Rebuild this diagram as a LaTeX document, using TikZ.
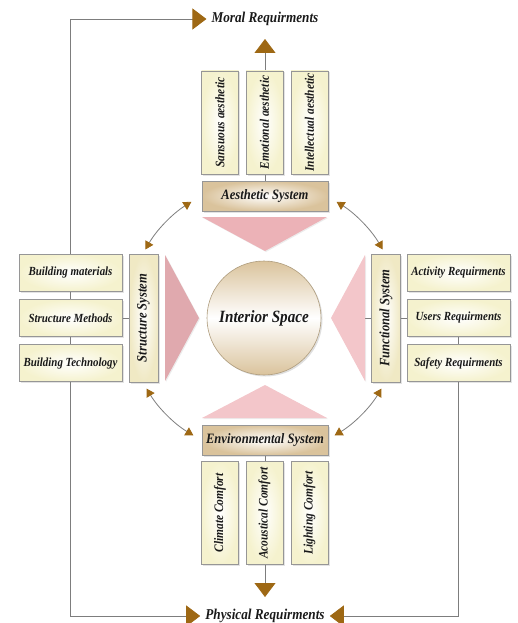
\documentclass[tikz,border=0pt]{standalone}
\usepackage{fontspec}
\setmainfont{Liberation Serif}[FakeStretch=0.88]
\usetikzlibrary{arrows.meta,positioning,shadows,backgrounds}
\definecolor{cream}{RGB}{245,242,206}
\definecolor{sand}{RGB}{218,195,156}
\definecolor{rosy}{RGB}{236,178,183}
\definecolor{rosylight}{RGB}{243,198,202}
\definecolor{bronze}{RGB}{158,104,20}
\definecolor{wire}{RGB}{125,125,125}
\definecolor{edge}{RGB}{150,150,150}
\definecolor{ink}{RGB}{25,25,25}

\begin{document}
\begin{tikzpicture}[x=1pt,y=-1pt,
  every node/.style={text=ink},
  box/.style={draw=edge,line width=0.7pt,inner color=white,outer color=cream,
    minimum width=103pt,minimum height=37pt,inner sep=1pt,
    font=\fontsize{12.4pt}{14pt}\selectfont\bfseries\itshape,
    drop shadow={shadow xshift=1.5pt,shadow yshift=-1.5pt,opacity=0.22}},
  col/.style={box,rotate=90,minimum width=103pt,minimum height=37pt,
    font=\fontsize{13pt}{15pt}\selectfont\bfseries\itshape},
  sys/.style={box,outer color=sand,minimum width=126pt,minimum height=30pt,
    font=\fontsize{14.3pt}{16pt}\selectfont\bfseries\itshape},
  vsys/.style={sys,rotate=90,outer color=cream!80!sand,minimum width=128pt,minimum height=29pt},
  lab/.style={font=\fontsize{15pt}{17pt}\selectfont\bfseries\itshape,inner sep=5pt},
  link/.style={draw=wire,line width=0.8pt},
  bigarrow/.style={link,-{Triangle[length=14pt,width=21pt,color=bronze]}},
  twoway/.style={link,{Triangle[length=8pt,width=9pt,color=bronze]}-{Triangle[length=8pt,width=9pt,color=bronze]}},
  wedge/.style={drop shadow={shadow xshift=1pt,shadow yshift=-1pt,opacity=0.15}}]
  \useasboundingbox (0,0) rectangle (518,623);

  \node[circle,minimum size=114pt,draw=sand!80!black,line width=0.6pt,
    top color=sand,bottom color=sand,middle color=white,
    font=\fontsize{17.2pt}{19pt}\selectfont\bfseries\itshape,
    drop shadow={shadow xshift=1.5pt,shadow yshift=-1.5pt,opacity=0.25}] (core) at (264,318) {Interior Space};

  \fill[rosy,wedge] (202,217) -- (327,217) -- (265,251) -- cycle;
  \fill[rosylight,wedge] (202,418) -- (327,418) -- (265,385) -- cycle;
  \fill[rosy!95!black,wedge] (165,255) -- (165,381) -- (199,318) -- cycle;
  \fill[rosylight,wedge] (365,255) -- (365,381) -- (331,318) -- cycle;

  \node[sys] (aes) at (265,196) {Aesthetic System};
  \node[sys] (env) at (265,440) {Environmental System};
  \node[vsys] (str) at (143.5,318) {Structure System};
  \node[vsys] (fun) at (386,318) {Functional System};

  \node[col] (sens) at (220,122.5) {Sansuous aesthetic};
  \node[col] (emo) at (264.5,122.5) {Emotional aesthetic};
  \node[col] (intel) at (309.5,122.5) {Intellectual aesthetic};
  \node[col] (clim) at (220,513) {Climate Comfort};
  \node[col] (acou) at (264.5,513) {Acoustical Comfort};
  \node[col] (light) at (309.5,513) {Lighting Comfort};

  \node[box] (sm) at (70.5,318) {Structure Methods};
  \node[box,above=7.5pt of sm] (bm) {Building materials};
  \node[box,below=7.5pt of sm] (bt) {Building Technology};
  \node[box] (ur) at (458.5,318) {Users Requirments};
  \node[box,above=7.5pt of ur] (ar) {Activity Requirments};
  \node[box,below=7.5pt of ur] (sr) {Safety Requirments};

  \node[lab] (moral) at (265,19) {Moral Requirments};
  \node[lab] (phys) at (265,616) {Physical Requirments};

  \coordinate (tl) at (bm |- moral);
  \coordinate (up) at (265,39);
  \coordinate (down) at (265,597);
  \coordinate (rt) at (365,318);

  \begin{scope}[on background layer]
    \draw[bigarrow] (tl) -- (moral.west);
    \draw[bigarrow] (tl) |- (phys.west);
    \draw[bigarrow] (ur) |- (phys.east);
    \draw[bigarrow] (aes) -- (up);
    \draw[bigarrow] (env) -- (down);
    \draw[link] (sm) -- (str);
    \draw[link] (rt) -- (ur);
    \draw[twoway] (core) ++(-122:137) arc[start angle=-122,end angle=-150,radius=137];
    \draw[twoway] (core) ++(-58:137) arc[start angle=-58,end angle=-30,radius=137];
    \draw[twoway] (core) ++(31:137) arc[start angle=31,end angle=59,radius=137];
    \draw[twoway] (core) ++(149:137) arc[start angle=149,end angle=121,radius=137];
  \end{scope}
\end{tikzpicture}
\end{document}
